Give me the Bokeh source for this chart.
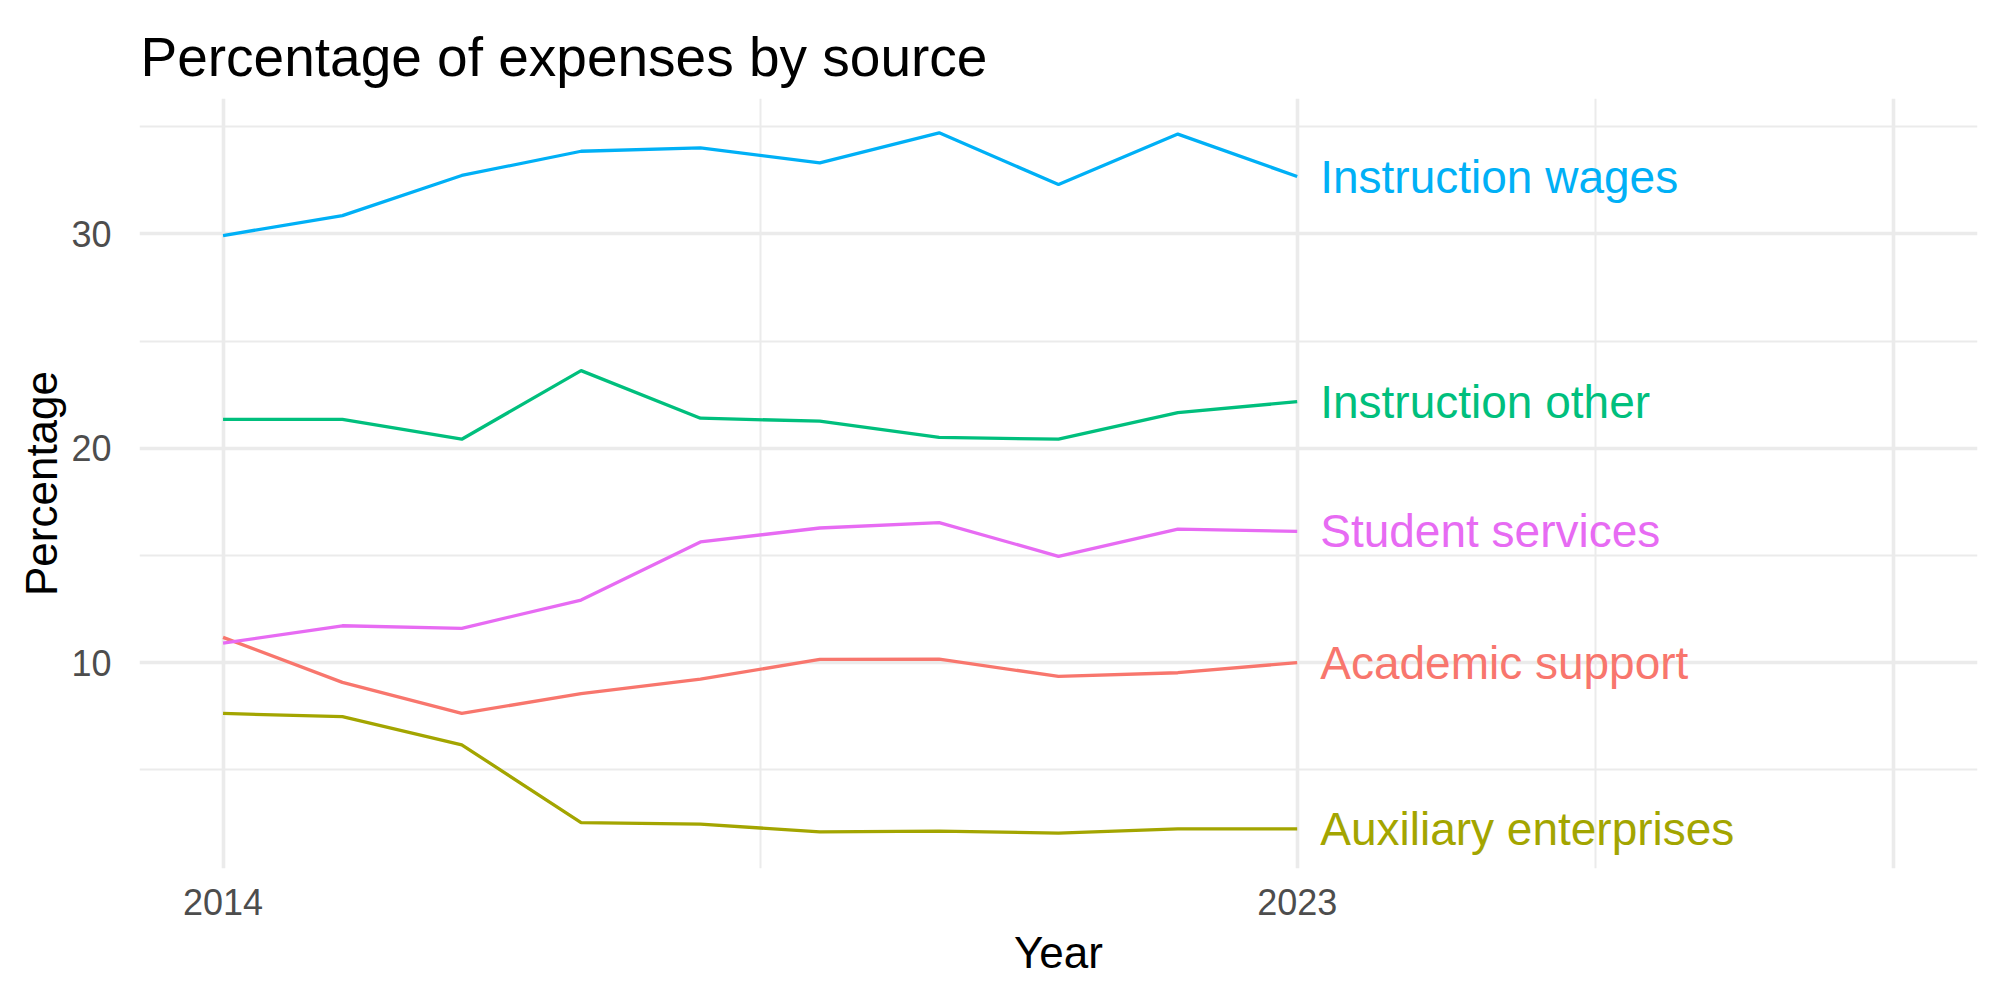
from bokeh.plotting import figure
from bokeh.models import FixedTicker, Range1d, ColumnDataSource
from bokeh.core.properties import value
from bokeh.embed import file_html
from bokeh.resources import INLINE

# Share of total expenses (%) by category, fiscal years 2014-2023
years = [2014, 2015, 2016, 2017, 2018, 2019, 2020, 2021, 2022, 2023]

instruction_wages = [29.92, 30.85, 32.72, 33.85, 34.01, 33.31, 34.71, 32.30, 34.65, 32.67]
instruction_other = [21.35, 21.35, 20.42, 23.62, 21.40, 21.26, 20.51, 20.42, 21.66, 22.17]
student_services = [10.91, 11.72, 11.60, 12.92, 15.63, 16.28, 16.53, 14.96, 16.23, 16.12]
academic_support = [11.18, 9.08, 7.63, 8.56, 9.23, 10.15, 10.16, 9.36, 9.53, 10.00]
auxiliary_enterprises = [7.63, 7.48, 6.17, 2.54, 2.47, 2.11, 2.14, 2.05, 2.25, 2.25]

series_names = ["Academic support", "Auxiliary enterprises", "Instruction other",
                "Instruction wages", "Student services"]
series_values = [academic_support, auxiliary_enterprises, instruction_other,
                 instruction_wages, student_services]
series_colors = ["#F8766D", "#A3A500", "#00BF7D", "#00B0F6", "#E76BF3"]

x_tick_labels = {2014: "2014", 2023: "2023"}
y_ticks = [10, 20, 30]

FONT = "Liberation Sans"

p = figure(width=2000, height=1000, output_backend="svg", toolbar_location=None,
           x_range=Range1d(2013.30, 2028.70), y_range=Range1d(0.40, 36.31),
           min_border_left=139, min_border_right=23, min_border_top=98,
           min_border_bottom=132)

p.title.text = "Percentage of expenses by source"
p.title.text_font = FONT
p.title.text_font_size = "55px"
p.title.text_font_style = "normal"
p.title.text_color = "black"
p.title.offset = 1
p.title.standoff = 22

p.outline_line_color = None
p.background_fill_color = "white"
p.border_fill_color = "white"

# x axis: labels only at first and last year
p.xaxis.ticker = FixedTicker(ticks=list(x_tick_labels.keys()))
p.xaxis.major_label_overrides = x_tick_labels
p.yaxis.ticker = FixedTicker(ticks=y_ticks)

for ax in (p.xaxis, p.yaxis):
    ax.axis_line_color = None
    ax.major_tick_line_color = None
    ax.minor_tick_line_color = None
    ax.major_label_text_font = FONT
    ax.major_label_text_font_size = "36px"
    ax.major_label_text_color = "#4D4D4D"
    ax.axis_label_text_font = FONT
    ax.axis_label_text_font_size = "44px"
    ax.axis_label_text_font_style = "normal"
    ax.axis_label_text_color = "black"

p.xaxis.axis_label = "Year"
p.yaxis.axis_label = "Percentage"
p.xaxis.major_label_standoff = 14
p.yaxis.major_label_standoff = 22
p.xaxis.axis_label_standoff = 10
p.yaxis.axis_label_standoff = 2

# panel grid
p.xgrid.ticker = FixedTicker(ticks=[2014, 2023, 2028], minor_ticks=[2018.5, 2025.5])
p.ygrid.ticker = FixedTicker(ticks=y_ticks, minor_ticks=[5, 15, 25, 35])
for g in (p.xgrid, p.ygrid):
    g.grid_line_color = "#EBEBEB"
    g.grid_line_width = 3.6
    g.minor_grid_line_color = "#EBEBEB"
    g.minor_grid_line_width = 2.0

for name, vals, color in zip(series_names, series_values, series_colors):
    src = ColumnDataSource(data=dict(x=years, y=vals))
    p.line("x", "y", source=src, line_color=color, line_width=3.3)

# end-of-line labels
label_src = ColumnDataSource(data=dict(
    x=[years[-1]] * len(series_names),
    y=[v[-1] for v in series_values],
    text=series_names,
    color=series_colors,
))
p.text("x", "y", text="text", source=label_src, text_color="color",
       x_offset=23, text_align="left", text_baseline="middle",
       text_font=value(FONT), text_font_size="46px")

html = file_html(p, INLINE)
with open("out.html", "w") as f:
    f.write(html)
